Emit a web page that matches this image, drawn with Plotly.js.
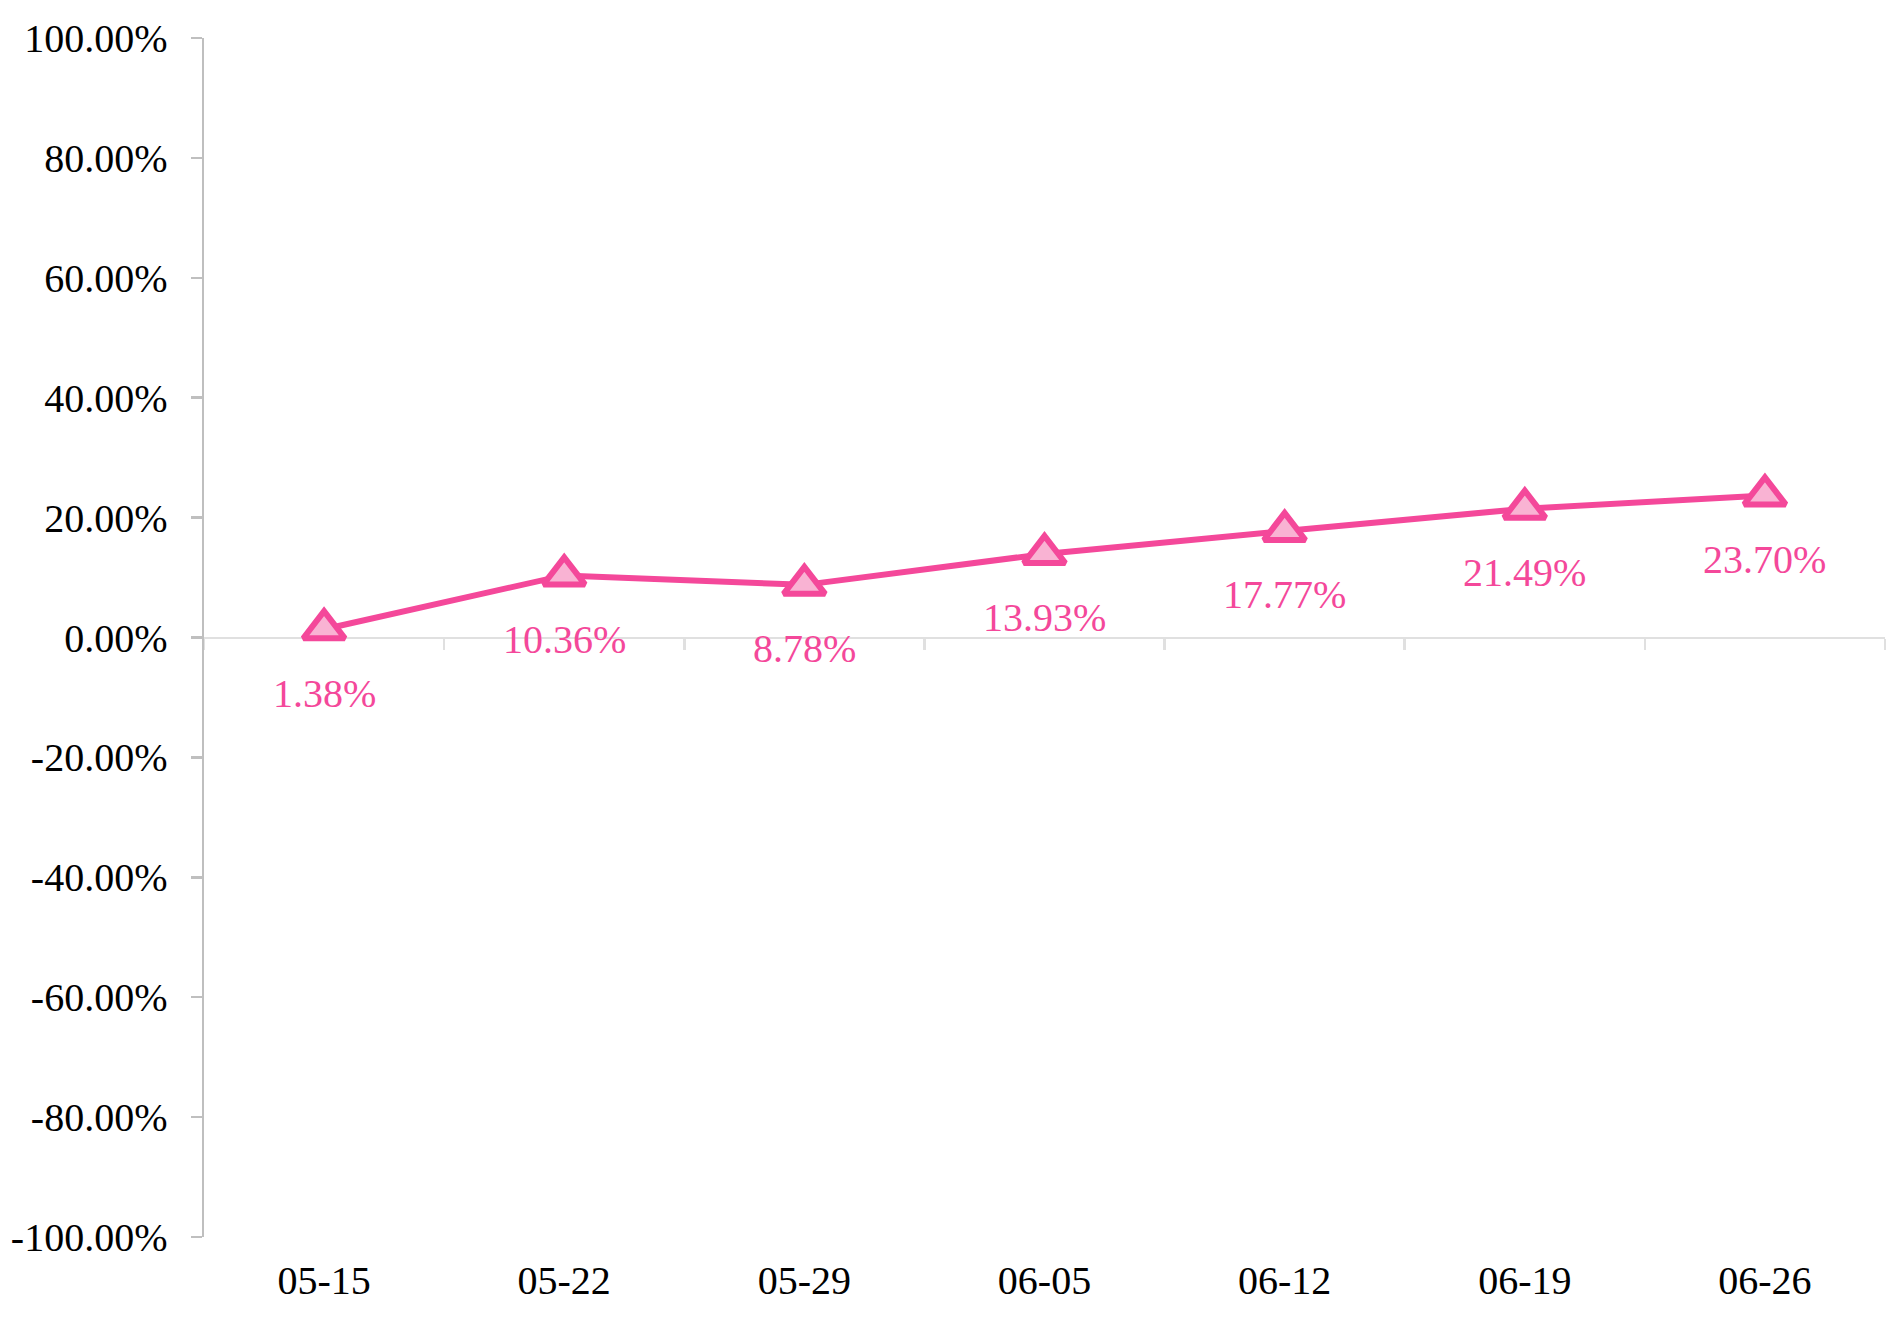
<!DOCTYPE html>
<html>
<head>
<meta charset="utf-8">
<script src="https://cdn.plot.ly/plotly-3.0.1.min.js"></script>
<style>
  html, body { margin: 0; padding: 0; background: #fff; }
  #chart { width: 1903px; height: 1320px; }
</style>
</head>
<body>
<div id="chart"></div>
<script>
// weekly dates and cumulative return (%)
const dates   = ['05-15', '05-22', '05-29', '06-05', '06-12', '06-19', '06-26'];
const returns = [1.38, 10.36, 8.78, 13.93, 17.77, 21.49, 23.70];

// y axis ticks (%), labels keep a plain hyphen like the original
const yTickVals = [-100, -80, -60, -40, -20, 0, 20, 40, 60, 80, 100];
const yTickText = yTickVals.map(v => v.toFixed(2) + '%');

const FONT = '"Liberation Serif", "Times New Roman", serif';
const PINK = '#F4489A';
const PINK_FILL = '#F9B3D3';
const AXIS_GREY = '#BFBFBF';
const ZERO_GREY = '#E0E0E0';

const data = [
    // dummy trace so the zero-crossing category axis gets drawn
    { x: dates, y: dates.map(() => null), xaxis: 'x2', yaxis: 'y',
      type: 'scatter', mode: 'lines', hoverinfo: 'skip', showlegend: false },
    { x: dates, y: returns, type: 'scatter', mode: 'lines+markers',
      line: { color: PINK, width: 6 },
      marker: { symbol: 'triangle-up', size: 36, color: PINK_FILL,
                line: { color: PINK, width: 6 } },
      hoverinfo: 'x+y', showlegend: false }
];

// value labels below each point
const annotations = dates.map((d, i) => ({
    x: d, y: returns[i], xref: 'x', yref: 'y',
    text: returns[i].toFixed(2) + '%',
    showarrow: false, yshift: -64, yanchor: 'middle',
    font: { family: FONT, size: 40, color: PINK }
}));

const layout = {
    width: 1903, height: 1320,
    margin: { l: 204, r: 18, t: 38, b: 83 },
    paper_bgcolor: '#fff', plot_bgcolor: '#fff',
    showlegend: false,
    font: { family: FONT, size: 40, color: '#000' },
    xaxis: {
        type: 'category', categoryarray: dates, range: [-0.5, 6.5],
        showline: false, showgrid: false, zeroline: false, ticks: '',
        ticklabelstandoff: 16,
        tickfont: { family: FONT, size: 40, color: '#000' },
        fixedrange: true
    },
    // axis line + boundary ticks sitting on y = 0
    xaxis2: {
        type: 'category', categoryarray: dates, range: [-0.5, 6.5],
        overlaying: 'x', anchor: 'free', position: 0.5, side: 'bottom',
        showline: true, linecolor: ZERO_GREY, linewidth: 2.5,
        ticks: 'outside', tickson: 'boundaries', ticklen: 11,
        tickcolor: ZERO_GREY, tickwidth: 2.5,
        showticklabels: false, showgrid: false, zeroline: false,
        layer: 'below traces', fixedrange: true
    },
    yaxis: {
        range: [-100, 100], tickvals: yTickVals, ticktext: yTickText,
        showline: true, linecolor: AXIS_GREY, linewidth: 2.5,
        ticks: 'outside', ticklen: 11, tickcolor: AXIS_GREY, tickwidth: 2.5,
        ticklabelstandoff: 15,
        showgrid: false, zeroline: false,
        tickfont: { family: FONT, size: 40, color: '#000' },
        fixedrange: true
    },
    annotations: annotations
};

Plotly.newPlot('chart', data, layout, { displayModeBar: false, staticPlot: true });
</script>
</body>
</html>
